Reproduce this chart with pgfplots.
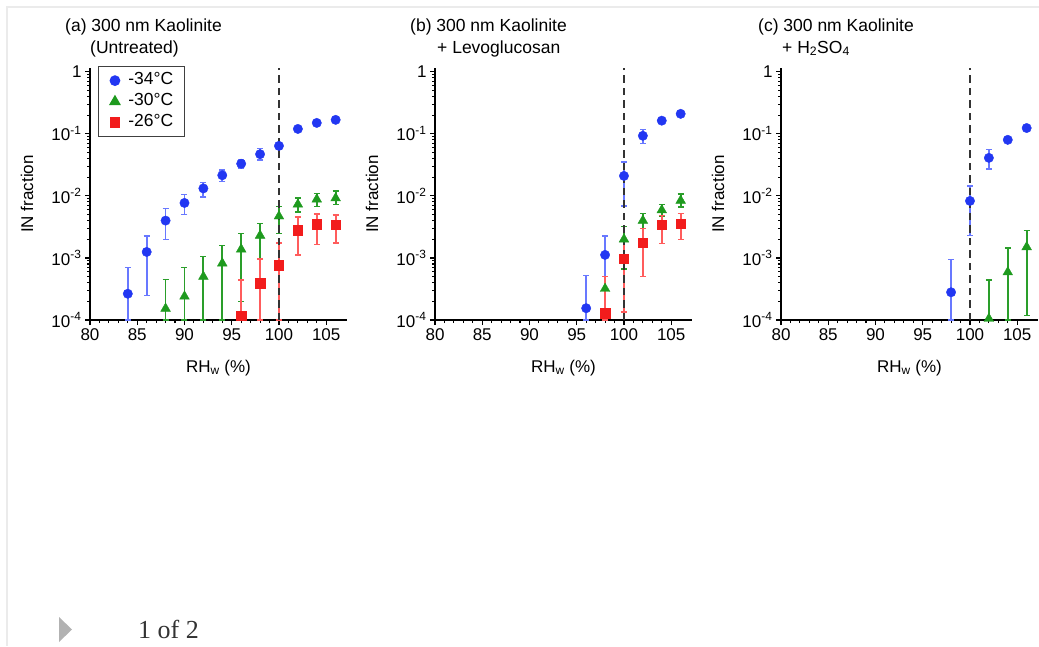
\documentclass[border=0pt]{standalone}
\usepackage{fontspec}
\setmainfont{Liberation Sans}
\newfontfamily\pagerfont{Liberation Serif}
\usepackage{pgfplots}
\usepackage{pgfplotstable}
\pgfplotsset{compat=1.18}

\definecolor{cblue}{HTML}{2237F2}
\definecolor{cgreen}{HTML}{1E9A1E}
\definecolor{cred}{HTML}{F21C1C}
\definecolor{eblue}{HTML}{6878FF}
\definecolor{egreen}{HTML}{2A9E2A}
\definecolor{ered}{HTML}{FF5C5C}

% columns: RH_w (%), IN fraction, lower and upper end of the error bar
% (a) untreated
\pgfplotstableread{
x   y        lo       hi
84  2.65e-4  1.0e-4   7.0e-4
86  1.25e-3  2.5e-4   2.25e-3
88  4.0e-3   2.0e-3   6.2e-3
90  7.7e-3   5.0e-3   1.05e-2
92  1.32e-2  9.6e-3   1.65e-2
94  2.15e-2  1.7e-2   2.6e-2
96  3.3e-2   2.8e-2   3.8e-2
98  4.7e-2   3.8e-2   5.8e-2
100 6.4e-2   5.6e-2   7.2e-2
102 0.120    0.110    0.130
104 0.150    0.140    0.160
106 0.168    0.158    0.178
}\tabAblue
\pgfplotstableread{
x   y        lo       hi
88  1.53e-4  1.0e-4   4.5e-4
90  2.4e-4   1.0e-4   7.0e-4
92  5.0e-4   1.0e-4   1.05e-3
94  8.2e-4   1.0e-4   1.6e-3
96  1.38e-3  2.0e-4   2.5e-3
98  2.3e-3   9.5e-4   3.6e-3
100 4.7e-3   2.5e-3   6.8e-3
102 7.3e-3   5.5e-3   9.3e-3
104 8.8e-3   6.8e-3   1.1e-2
106 9.2e-3   7.2e-3   1.2e-2
}\tabAgreen
\pgfplotstableread{
x   y        lo       hi
96  1.17e-4  1.0e-4   4.4e-4
98  3.9e-4   1.0e-4   9.6e-4
100 7.7e-4   1.0e-4   1.75e-3
102 2.8e-3   1.12e-3  4.6e-3
104 3.5e-3   1.65e-3  5.1e-3
106 3.4e-3   1.75e-3  4.95e-3
}\tabAred
% (b) + levoglucosan
\pgfplotstableread{
x   y        lo       hi
96  1.55e-4  1.0e-4   5.2e-4
98  1.12e-3  1.0e-4   2.25e-3
100 2.1e-2   6.9e-3   3.5e-2
102 9.3e-2   7.0e-2   0.117
104 0.163    0.150    0.176
106 0.210    0.195    0.225
}\tabBblue
\pgfplotstableread{
x   y        lo       hi
98  3.2e-4   1.3e-4   5.0e-4
100 2.0e-3   6.6e-4   3.2e-3
102 4.0e-3   3.0e-3   5.2e-3
104 5.9e-3   4.7e-3   7.3e-3
106 8.4e-3   6.6e-3   1.08e-2
}\tabBgreen
\pgfplotstableread{
x   y        lo       hi
98  1.28e-4  1.0e-4   5.0e-4
100 9.7e-4   1.35e-4  1.9e-3
102 1.75e-3  5.0e-4   3.0e-3
104 3.4e-3   1.7e-3   4.8e-3
106 3.6e-3   2.0e-3   5.2e-3
}\tabBred
% (c) + H2SO4
\pgfplotstableread{
x   y        lo       hi
98  2.8e-4   1.0e-4   9.5e-4
100 8.3e-3   2.3e-3   1.44e-2
102 4.1e-2   2.7e-2   5.6e-2
104 8.0e-2   7.4e-2   8.6e-2
106 0.124    0.115    0.133
}\tabCblue
\pgfplotstableread{
x   y        lo       hi
102 1.05e-4  1.0e-4   4.4e-4
104 5.9e-4   1.0e-4   1.45e-3
106 1.5e-3   1.18e-4  2.8e-3
}\tabCgreen

% layout shared by the three panels
\pgfplotsset{
  every axis/.append style={
    scale only axis, width=257pt, height=252pt,
    anchor=south west,
    xmin=80, xmax=107.2, ymin=1e-4, ymax=1.15,
    axis x line*=bottom, axis y line*=left,
    axis line style={line width=1.7pt, black},
    xtick={80,85,90,95,100,105}, minor x tick num=4,
    xticklabels={80,85,90,95,100,105},
    ytick={1e-4,1e-3,1e-2,1e-1,1},
    yticklabels={10\textsuperscript{-4},10\textsuperscript{-3},10\textsuperscript{-2},10\textsuperscript{-1},1},
    minor ytick={2e-4,3e-4,4e-4,5e-4,6e-4,7e-4,8e-4,9e-4,
                 2e-3,3e-3,4e-3,5e-3,6e-3,7e-3,8e-3,9e-3,
                 2e-2,3e-2,4e-2,5e-2,6e-2,7e-2,8e-2,9e-2,
                 2e-1,3e-1,4e-1,5e-1,6e-1,7e-1,8e-1,9e-1},
    tick align=outside,
    major tick length=5pt, minor tick length=3pt,
    every tick/.style={black, line width=1.1pt},
    tick label style={font=\fontsize{17}{20}\selectfont},
    xlabel={RH\textsubscript{w} (\%)}, ylabel={IN fraction},
    every axis x label/.style={at={(axis description cs:0.5,-0.19)}, anchor=center, font=\fontsize{17}{20}\selectfont},
    every axis y label/.style={at={(axis description cs:-0.245,0.5)}, rotate=90, anchor=center, font=\fontsize{17}{20}\selectfont},
    clip=false,
  },
}

\begin{document}
\begin{tikzpicture}[x=1pt, y=1pt, font=\fontsize{17.5}{20}\selectfont]
\useasboundingbox (0pt,0pt) rectangle (1039pt,-646pt);
\draw[black!8, line width=2pt] (7pt,-646pt) -- (7pt,-7pt) -- (1039pt,-7pt);

% panel titles
\node[anchor=base west, inner sep=0pt] at (65pt,-31pt) {(a) 300 nm Kaolinite};
\node[anchor=base west, inner sep=0pt] at (90pt,-53pt) {(Untreated)};
\node[anchor=base west, inner sep=0pt] at (410pt,-31pt) {(b) 300 nm Kaolinite};
\node[anchor=base west, inner sep=0pt] at (437pt,-53pt) {+ Levoglucosan};
\node[anchor=base west, inner sep=0pt] at (758pt,-31pt) {(c) 300 nm Kaolinite};
\node[anchor=base west, inner sep=0pt] at (782pt,-53pt) {+ H\textsubscript{2}SO\textsubscript{4}};

% (a)
\begin{semilogyaxis}[at={(90pt,-320pt)},
  legend style={at={(axis description cs:0.031,1.008)}, anchor=north west,
    draw=black!75, line width=1.3pt, font=\fontsize{17.5}{20}\selectfont,
    inner xsep=11.5pt, inner ysep=6pt, row sep=5pt, column sep=8.5pt,
    nodes={inner xsep=0pt, inner ysep=0pt, text height=12pt, text depth=4pt}},
  legend cell align=left]
\addplot[only marks, mark=*, mark size=4.7pt, mark options={fill=cblue, draw=cblue},
  error bars/.cd, y dir=both, y explicit,
  error bar style={eblue, line width=1.8pt},
  error mark options={rotate=90, eblue, mark size=3pt, line width=1.4pt}]
  table[x=x, y=y, y error plus expr=\thisrow{hi}-\thisrow{y}, y error minus expr=\thisrow{y}-\thisrow{lo}] {\tabAblue};
\addlegendentry{-34\textdegree C}
\addplot[only marks, mark=triangle*, mark size=5.6pt, mark options={fill=cgreen, draw=cgreen},
  error bars/.cd, y dir=both, y explicit,
  error bar style={egreen, line width=1.8pt},
  error mark options={rotate=90, egreen, mark size=3pt, line width=1.4pt}]
  table[x=x, y=y, y error plus expr=\thisrow{hi}-\thisrow{y}, y error minus expr=\thisrow{y}-\thisrow{lo}] {\tabAgreen};
\addlegendentry{-30\textdegree C}
\addplot[only marks, mark=square*, mark size=4.7pt, mark options={fill=cred, draw=cred},
  error bars/.cd, y dir=both, y explicit,
  error bar style={ered, line width=1.8pt},
  error mark options={rotate=90, ered, mark size=3pt, line width=1.4pt}]
  table[x=x, y=y, y error plus expr=\thisrow{hi}-\thisrow{y}, y error minus expr=\thisrow{y}-\thisrow{lo}] {\tabAred};
\addlegendentry{-26\textdegree C}
\addplot[black!80, line width=1.6pt, dash pattern=on 7.5pt off 5pt, forget plot] coordinates {(100,1e-4) (100,1.15)};
\end{semilogyaxis}

% (b)
\begin{semilogyaxis}[at={(435pt,-320pt)}]
\addplot[only marks, mark=*, mark size=4.7pt, mark options={fill=cblue, draw=cblue},
  error bars/.cd, y dir=both, y explicit,
  error bar style={eblue, line width=1.8pt},
  error mark options={rotate=90, eblue, mark size=3pt, line width=1.4pt}]
  table[x=x, y=y, y error plus expr=\thisrow{hi}-\thisrow{y}, y error minus expr=\thisrow{y}-\thisrow{lo}] {\tabBblue};
\addplot[only marks, mark=triangle*, mark size=5.6pt, mark options={fill=cgreen, draw=cgreen},
  error bars/.cd, y dir=both, y explicit,
  error bar style={egreen, line width=1.8pt},
  error mark options={rotate=90, egreen, mark size=3pt, line width=1.4pt}]
  table[x=x, y=y, y error plus expr=\thisrow{hi}-\thisrow{y}, y error minus expr=\thisrow{y}-\thisrow{lo}] {\tabBgreen};
\addplot[only marks, mark=square*, mark size=4.7pt, mark options={fill=cred, draw=cred},
  error bars/.cd, y dir=both, y explicit,
  error bar style={ered, line width=1.8pt},
  error mark options={rotate=90, ered, mark size=3pt, line width=1.4pt}]
  table[x=x, y=y, y error plus expr=\thisrow{hi}-\thisrow{y}, y error minus expr=\thisrow{y}-\thisrow{lo}] {\tabBred};
\addplot[black!80, line width=1.6pt, dash pattern=on 7.5pt off 5pt, forget plot] coordinates {(100,1e-4) (100,1.15)};
\end{semilogyaxis}

% (c)
\begin{semilogyaxis}[at={(781pt,-320pt)}]
\addplot[only marks, mark=*, mark size=4.7pt, mark options={fill=cblue, draw=cblue},
  error bars/.cd, y dir=both, y explicit,
  error bar style={eblue, line width=1.8pt},
  error mark options={rotate=90, eblue, mark size=3pt, line width=1.4pt}]
  table[x=x, y=y, y error plus expr=\thisrow{hi}-\thisrow{y}, y error minus expr=\thisrow{y}-\thisrow{lo}] {\tabCblue};
\addplot[only marks, mark=triangle*, mark size=5.6pt, mark options={fill=cgreen, draw=cgreen},
  error bars/.cd, y dir=both, y explicit,
  error bar style={egreen, line width=1.8pt},
  error mark options={rotate=90, egreen, mark size=3pt, line width=1.4pt}]
  table[x=x, y=y, y error plus expr=\thisrow{hi}-\thisrow{y}, y error minus expr=\thisrow{y}-\thisrow{lo}] {\tabCgreen};
\addplot[black!80, line width=1.6pt, dash pattern=on 7.5pt off 5pt, forget plot] coordinates {(100,1e-4) (100,1.15)};
\end{semilogyaxis}

% pager
\fill[black!30] (59pt,-617pt) -- (72pt,-629.5pt) -- (59pt,-642pt) -- cycle;
\node[anchor=base west, inner sep=0pt, text=black!80, font=\pagerfont\fontsize{26}{28}\selectfont] at (138pt,-638pt) {1 of 2};
\end{tikzpicture}
\end{document}
